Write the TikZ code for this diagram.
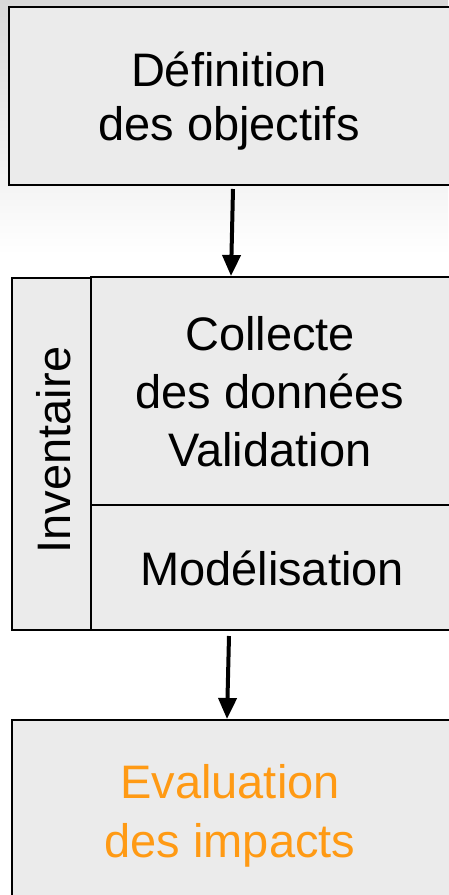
\documentclass[tikz,border=0pt]{standalone}
\usepackage{fontspec}
\setmainfont{Liberation Sans}
\usetikzlibrary{arrows.meta}
\definecolor{boxfill}{HTML}{EBEBEB}
\definecolor{bgtop}{HTML}{D8D8D8}
\definecolor{evalorange}{HTML}{FF9A14}
\tikzset{
  box/.style={draw=black, line width=2pt, fill=boxfill, rectangle, inner sep=0pt, anchor=north west},
  lbl/.style={align=center, anchor=base, inner sep=0pt},
  conn/.style={line width=4pt, -{Triangle[width=18pt,length=21pt]}},
}
\begin{document}
\begin{tikzpicture}[x=1pt,y=-1pt]
\useasboundingbox (0,0) rectangle (448,895);
\fill[white] (0,0) rectangle (448,895);
\shade[top color=bgtop, bottom color=white] (0,0) rectangle (448,255);
% boxes
\node[box, minimum width=452pt, minimum height=178pt] (def) at (8,6) {};
\node[box, minimum width=79pt, minimum height=352pt] (invcol) at (11,277) {};
\node[box, minimum width=370pt, minimum height=228pt] (inv) at (90,276) {};
\node[box, minimum width=370pt, minimum height=125pt] (mod) at (90,504) {};
\node[box, minimum width=452pt, minimum height=200pt] (eval) at (11,719) {};
% texts (base = baseline of last line)
\node[lbl, font=\fontsize{47}{54}\selectfont] (deft) at (229,140) {Définition\\des objectifs};
\node[lbl, font=\fontsize{47}{58}\selectfont] (invt) at (270,466) {Collecte\\des données\\Validation};
\node[lbl, font=\fontsize{47}{58}\selectfont] (modt) at (272,585) {Modélisation};
\node[lbl, font=\fontsize{47}{58}\selectfont, rotate=90] (colt) at (70,450) {Inventaire};
\node[lbl, font=\fontsize{47}{59}\selectfont, text=evalorange] (evalt) at (230,857) {Evaluation\\des impacts};
% connectors
\draw[conn] ([xshift=-2pt,yshift=-3pt]def.south) -- ([xshift=-45pt]inv.north);
\draw[conn] ([xshift=-47pt,yshift=-5pt]mod.south) -- ([xshift=-11pt]eval.north);
\end{tikzpicture}
\end{document}
